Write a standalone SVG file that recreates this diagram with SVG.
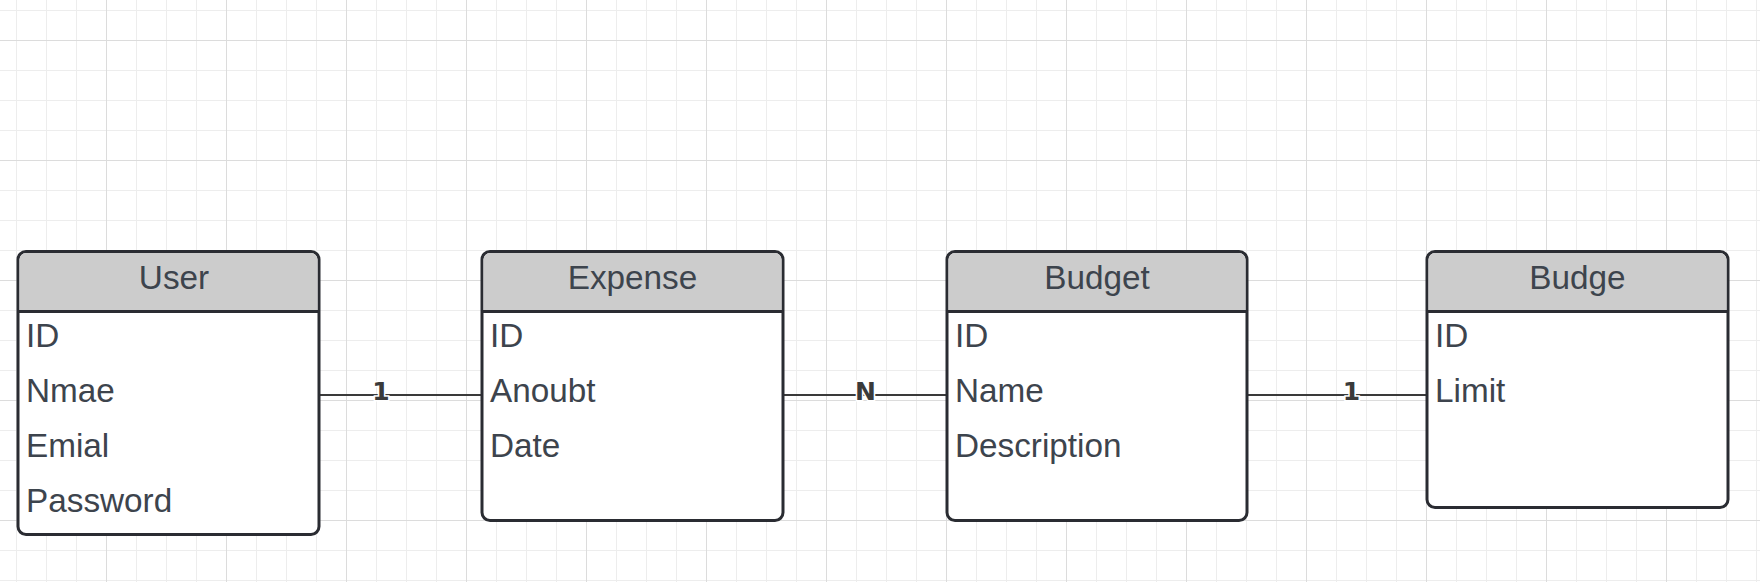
<svg xmlns="http://www.w3.org/2000/svg" width="1760" height="582" viewBox="0 0 1760 582">
<style>
.minor{stroke:#ededed;stroke-width:1;fill:none}
.major{stroke:#dcdcdc;stroke-width:1;fill:none}
.box{fill:#ffffff;stroke:#2a2c32;stroke-width:3}
.head{fill:#cccccc}
.sep{stroke:#2a2c32;stroke-width:3}
.title{font-family:"Liberation Sans",Arial,sans-serif;font-size:33.3px;fill:#3d444d;text-anchor:middle}
.attr{font-family:"Liberation Sans",Arial,sans-serif;font-size:33.3px;fill:#3d444d}
.conn{stroke:#3a3a3a;stroke-width:2;fill:none}
.lbl{font-family:"DejaVu Sans",sans-serif;font-size:25px;font-weight:bold;fill:#3a3a3a;text-anchor:middle;stroke:#ffffff;stroke-width:3;paint-order:stroke}
</style>
<rect width="1760" height="582" fill="#ffffff"/>
<g id="grid">
<path class="minor" d="M16.5 0V582M46.5 0V582M76.5 0V582M136.5 0V582M166.5 0V582M196.5 0V582M256.5 0V582M286.5 0V582M316.5 0V582M376.5 0V582M406.5 0V582M436.5 0V582M496.5 0V582M526.5 0V582M556.5 0V582M616.5 0V582M646.5 0V582M676.5 0V582M736.5 0V582M766.5 0V582M796.5 0V582M856.5 0V582M886.5 0V582M916.5 0V582M976.5 0V582M1006.5 0V582M1036.5 0V582M1096.5 0V582M1126.5 0V582M1156.5 0V582M1216.5 0V582M1246.5 0V582M1276.5 0V582M1336.5 0V582M1366.5 0V582M1396.5 0V582M1456.5 0V582M1486.5 0V582M1516.5 0V582M1576.5 0V582M1606.5 0V582M1636.5 0V582M1696.5 0V582M1726.5 0V582M1756.5 0V582M0 10.5H1760M0 70.5H1760M0 100.5H1760M0 130.5H1760M0 190.5H1760M0 220.5H1760M0 250.5H1760M0 310.5H1760M0 340.5H1760M0 370.5H1760M0 430.5H1760M0 460.5H1760M0 490.5H1760M0 550.5H1760M0 580.5H1760"/>
<path class="major" d="M106.5 0V582M226.5 0V582M346.5 0V582M466.5 0V582M586.5 0V582M706.5 0V582M826.5 0V582M946.5 0V582M1066.5 0V582M1186.5 0V582M1306.5 0V582M1426.5 0V582M1546.5 0V582M1666.5 0V582M0 40.5H1760M0 160.5H1760M0 280.5H1760M0 400.5H1760M0 520.5H1760"/>
</g>
<g id="connectors">
<path class="conn" d="M319 395H482"/>
<path class="conn" d="M783 395H947"/>
<path class="conn" d="M1247 395H1427"/>
<text class="lbl" x="381" y="400">1</text>
<text class="lbl" x="865.5" y="400">N</text>
<text class="lbl" x="1351.5" y="400">1</text>
</g>
<g id="user">
<rect class="box" x="18" y="251.5" width="301" height="283" rx="8"/>
<path class="head" d="M26 253H311A6.5 6.5 0 0 1 317.5 259.5V311.5H19.5V259.5A6.5 6.5 0 0 1 26 253Z"/>
<path class="sep" d="M18 311.5H319"/>
<text class="title" x="174" y="288.5">User</text>
<text class="attr" x="26" y="346.5">ID</text>
<text class="attr" x="26" y="402">Nmae</text>
<text class="attr" x="26" y="457">Emial</text>
<text class="attr" x="26" y="512">Password</text>
</g>
<g id="expense">
<rect class="box" x="482" y="251.5" width="301" height="269" rx="8"/>
<path class="head" d="M490 253H775A6.5 6.5 0 0 1 781.5 259.5V311.5H483.5V259.5A6.5 6.5 0 0 1 490 253Z"/>
<path class="sep" d="M482 311.5H783"/>
<text class="title" x="632.5" y="288.5">Expense</text>
<text class="attr" x="490" y="346.5">ID</text>
<text class="attr" x="490" y="402">Anoubt</text>
<text class="attr" x="490" y="457">Date</text>
</g>
<g id="budget">
<rect class="box" x="947" y="251.5" width="300" height="269" rx="8"/>
<path class="head" d="M955 253H1239A6.5 6.5 0 0 1 1245.5 259.5V311.5H948.5V259.5A6.5 6.5 0 0 1 955 253Z"/>
<path class="sep" d="M947 311.5H1247"/>
<text class="title" x="1097" y="288.5">Budget</text>
<text class="attr" x="955" y="346.5">ID</text>
<text class="attr" x="955" y="402">Name</text>
<text class="attr" x="955" y="457">Description</text>
</g>
<g id="budge">
<rect class="box" x="1427" y="251.5" width="301" height="256" rx="8"/>
<path class="head" d="M1435 253H1720A6.5 6.5 0 0 1 1726.5 259.5V311.5H1428.5V259.5A6.5 6.5 0 0 1 1435 253Z"/>
<path class="sep" d="M1427 311.5H1728"/>
<text class="title" x="1577.5" y="288.5">Budge</text>
<text class="attr" x="1435" y="346.5">ID</text>
<text class="attr" x="1435" y="402">Limit</text>
</g>
</svg>
